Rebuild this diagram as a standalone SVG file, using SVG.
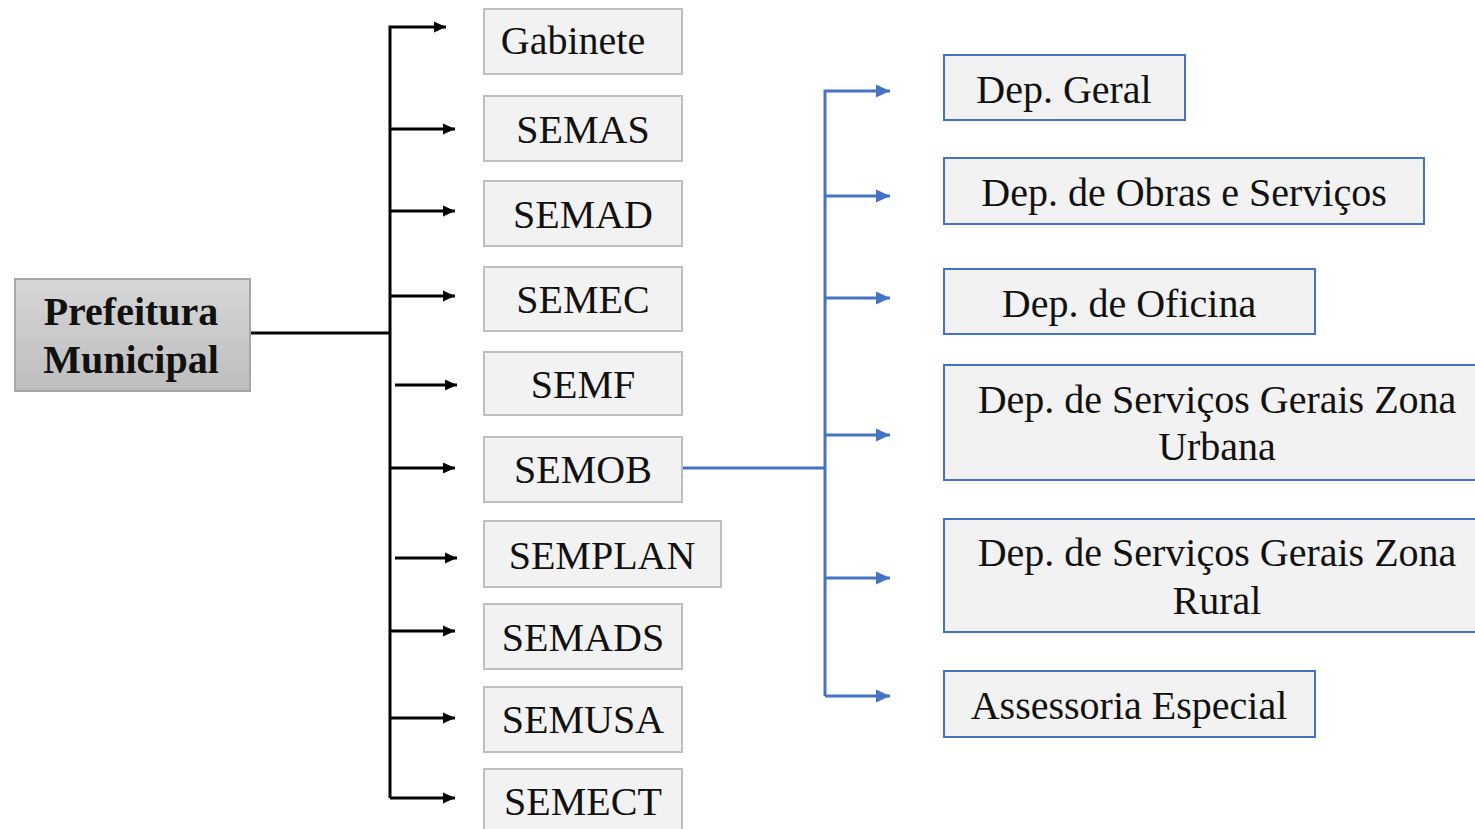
<svg xmlns="http://www.w3.org/2000/svg" width="1475" height="829" viewBox="0 0 1475 829">
<defs>
<linearGradient id="gg" x1="0" y1="0" x2="0" y2="1">
<stop offset="0" stop-color="#d7d7d7"/>
<stop offset="1" stop-color="#bdbdbd"/>
</linearGradient>
<marker id="ab" markerUnits="userSpaceOnUse" viewBox="0 0 13 13" markerWidth="13" markerHeight="13" refX="12" refY="6.5" orient="auto">
<path d="M0,1 L12,6.5 L0,12 Z" fill="#000"/>
</marker>
<marker id="au" markerUnits="userSpaceOnUse" viewBox="0 0 15 15" markerWidth="15" markerHeight="15" refX="14" refY="7.5" orient="auto">
<path d="M0,1 L14,7.5 L0,14 Z" fill="#4472c4"/>
</marker>
</defs>
<rect width="1475" height="829" fill="#fff"/>
<g id="connectors" fill="none" stroke-width="3">
<g stroke="#000">
<path d="M250,333 H390"/>
<path d="M390,798 V27 H446" marker-end="url(#ab)"/>
<path d="M390,129 H455" marker-end="url(#ab)"/>
<path d="M390,211 H455" marker-end="url(#ab)"/>
<path d="M390,296 H455" marker-end="url(#ab)"/>
<path d="M395,385 H457" marker-end="url(#ab)"/>
<path d="M390,468 H455" marker-end="url(#ab)"/>
<path d="M395,558 H457" marker-end="url(#ab)"/>
<path d="M390,631 H455" marker-end="url(#ab)"/>
<path d="M390,718 H455" marker-end="url(#ab)"/>
<path d="M390,798 H455" marker-end="url(#ab)"/>
</g>
<g stroke="#4472c4">
<path d="M682,468 H825"/>
<path d="M825,696 V91 H890" marker-end="url(#au)"/>
<path d="M825,196 H890" marker-end="url(#au)"/>
<path d="M825,298 H890" marker-end="url(#au)"/>
<path d="M825,435 H890" marker-end="url(#au)"/>
<path d="M825,578 H890" marker-end="url(#au)"/>
<path d="M825,696 H890" marker-end="url(#au)"/>
</g>
</g>
<g id="prefeitura">
<rect x="15" y="279" width="235" height="112" fill="url(#gg)" stroke="#a6a6a6" stroke-width="2"/>
<text x="131" y="325" font-family="Liberation Serif" font-weight="bold" font-size="40" text-anchor="middle" fill="#111">Prefeitura</text>
<text x="131" y="373" font-family="Liberation Serif" font-weight="bold" font-size="40" text-anchor="middle" fill="#111">Municipal</text>
</g>
<g id="secretarias" fill="#f2f2f2" stroke="#bfbfbf" stroke-width="2">
<rect id="gabinete-box" x="484" y="9" width="198" height="65"/>
<rect id="semas-box" x="484" y="96" width="198" height="65"/>
<rect id="semad-box" x="484" y="181" width="198" height="65"/>
<rect id="semec-box" x="484" y="267" width="198" height="64"/>
<rect id="semf-box" x="484" y="352" width="198" height="63"/>
<rect id="semob-box" x="484" y="437" width="198" height="65"/>
<rect id="semplan-box" x="484" y="521" width="237" height="66"/>
<rect id="semads-box" x="484" y="604" width="198" height="65"/>
<rect id="semusa-box" x="484" y="687" width="198" height="65"/>
<rect id="semect-box" x="484" y="769" width="198" height="70"/>
</g>
<g id="departamentos" fill="#f2f2f2" stroke="#4472c4" stroke-width="2">
<rect id="dep-geral-box" x="944" y="55" width="241" height="65"/>
<rect id="dep-obras-box" x="944" y="158" width="480" height="66"/>
<rect id="dep-oficina-box" x="944" y="269" width="371" height="65"/>
<rect id="dep-urbana-box" x="944" y="365" width="540" height="115"/>
<rect id="dep-rural-box" x="944" y="519" width="540" height="113"/>
<rect id="assessoria-box" x="944" y="671" width="371" height="66"/>
</g>
<g id="labels" font-family="Liberation Serif" font-size="40" fill="#111" text-anchor="middle">
<text x="573" y="54">Gabinete</text>
<text x="583" y="143">SEMAS</text>
<text x="583" y="228">SEMAD</text>
<text x="583" y="313">SEMEC</text>
<text x="583" y="398">SEMF</text>
<text x="583" y="483">SEMOB</text>
<text x="602" y="569">SEMPLAN</text>
<text x="583" y="651">SEMADS</text>
<text x="583" y="733">SEMUSA</text>
<text x="583" y="815">SEMECT</text>
<text x="1064" y="103">Dep. Geral</text>
<text x="1184" y="206">Dep. de Obras e Serviços</text>
<text x="1129" y="317">Dep. de Oficina</text>
<text x="1217" y="413">Dep. de Serviços Gerais Zona</text>
<text x="1217" y="460">Urbana</text>
<text x="1217" y="566">Dep. de Serviços Gerais Zona</text>
<text x="1217" y="614">Rural</text>
<text x="1129" y="719">Assessoria Especial</text>
</g>
</svg>
